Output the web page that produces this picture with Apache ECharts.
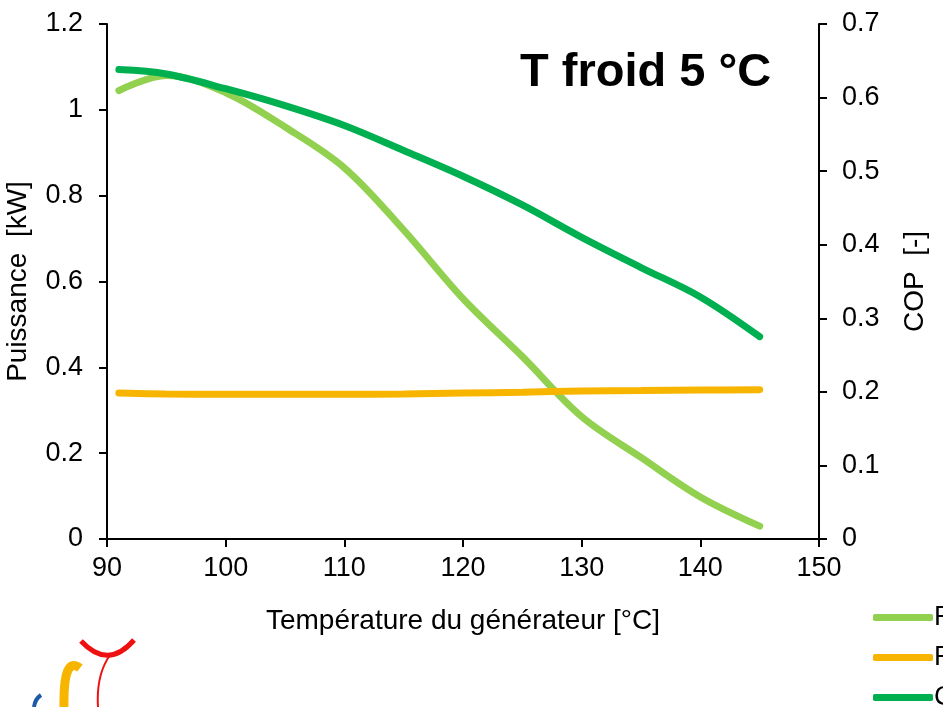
<!DOCTYPE html>
<html>
<head>
<meta charset="UTF-8">
<script src="https://cdn.jsdelivr.net/npm/echarts@6/dist/echarts.min.js"></script>
<style>
  body { margin: 0; background: #fff; }
  #main { width: 943px; height: 707px; }
</style>
</head>
<body>
<div id="main"></div>
<script>
  // valeurs
  const tGen = [91, 95, 100, 105, 110, 115, 120, 125, 130, 135, 140, 145];
  const pFroid = [1.045, 1.08, 1.04, 0.96, 0.865, 0.72, 0.56, 0.425, 0.285, 0.19, 0.098, 0.03];
  const pElec = [0.340, 0.338, 0.337, 0.337, 0.337, 0.338, 0.340, 0.342, 0.345, 0.346, 0.347, 0.348];
  const cop = [0.638, 0.632, 0.612, 0.589, 0.562, 0.528, 0.493, 0.454, 0.410, 0.369, 0.329, 0.275];
  const seriesNames = ['Puissance froid', 'Puissance électrique', 'COP'];
  const colors = ['#92d050', '#f8b500', '#00b050'];

  const pair = (ys) => tGen.map((x, i) => [x, ys[i]]);
  const txt = { fontFamily: 'Liberation Sans, Arial, sans-serif', color: '#000' };
  const axisLine = { show: true, lineStyle: { color: '#000', width: 2 } };
  const axisTick = { show: true, length: 8, lineStyle: { color: '#000', width: 2 } };

  const mkLine = (i, data, yIdx) => ({
    name: seriesNames[i], type: 'line', smooth: 0.35,
    showSymbol: false, symbol: 'none', data: pair(data), yAxisIndex: yIdx, z: 2 + i,
    lineStyle: { color: colors[i], width: 7, cap: 'round' }, itemStyle: { color: colors[i] }
  });

  const mkLegend = (i) => ({
    left: 868, top: 599 + i * 40,
    itemWidth: 60, itemHeight: 7, icon: 'roundRect',
    textStyle: Object.assign({}, txt, { fontSize: 27, padding: [0, 0, 0, -4] }),
    data: [seriesNames[i]]
  });

  // fragment du logo en bas à gauche
  const curve = (x1, y1, cx, cy, x2, y2, color, w) => ({
    type: 'bezierCurve',
    shape: { x1: x1, y1: y1, cpx1: cx, cpy1: cy, x2: x2, y2: y2 },
    style: { stroke: color, lineWidth: w, fill: null }
  });

  const chart = echarts.init(document.getElementById('main'));
  chart.setOption({
    animation: false,
    title: {
      text: 'T froid 5 °C',
      left: 515, top: 45,
      textStyle: Object.assign({}, txt, { fontSize: 47, fontWeight: 'bold' })
    },
    legend: [mkLegend(0), mkLegend(1), mkLegend(2)],
    grid: { left: 107, right: 124, top: 24, bottom: 168, outerBoundsMode: 'none' },
    xAxis: {
      type: 'value', min: 90, max: 150, interval: 10,
      name: 'Température du générateur [°C]',
      nameLocation: 'middle', nameGap: 68,
      nameTextStyle: Object.assign({}, txt, { fontSize: 28 }),
      axisLine: axisLine, axisTick: axisTick,
      axisLabel: Object.assign({}, txt, { fontSize: 27, margin: 16 }),
      splitLine: { show: false }
    },
    yAxis: [{
      type: 'value', min: 0, max: 1.2, interval: 0.2,
      name: 'Puissance  [kW]',
      nameLocation: 'middle', nameGap: 75, nameRotate: 90,
      nameTextStyle: Object.assign({}, txt, { fontSize: 28 }),
      axisLine: axisLine, axisTick: axisTick,
      axisLabel: Object.assign({}, txt, { fontSize: 27, margin: 24 }),
      splitLine: { show: false }
    }, {
      type: 'value', min: 0, max: 0.7, interval: 0.1, position: 'right',
      name: 'COP  [-]',
      nameLocation: 'middle', nameGap: 82, nameRotate: 90,
      nameTextStyle: Object.assign({}, txt, { fontSize: 28 }),
      axisLine: axisLine, axisTick: axisTick,
      axisLabel: Object.assign({}, txt, { fontSize: 27, margin: 23 }),
      splitLine: { show: false }
    }],
    graphic: [
      curve(81, 641, 108, 670, 134, 640, '#ee1111', 5),
      curve(110, 655, 96, 675, 98, 707, '#ee1111', 2),
      curve(80, 668, 63, 655, 64, 707, '#f8b500', 9),
      curve(41, 695, 35, 699, 34, 707, '#1f5aa6', 4)
    ],
    series: [mkLine(0, pFroid, 0), mkLine(1, pElec, 0), mkLine(2, cop, 1)]
  });
</script>
</body>
</html>
